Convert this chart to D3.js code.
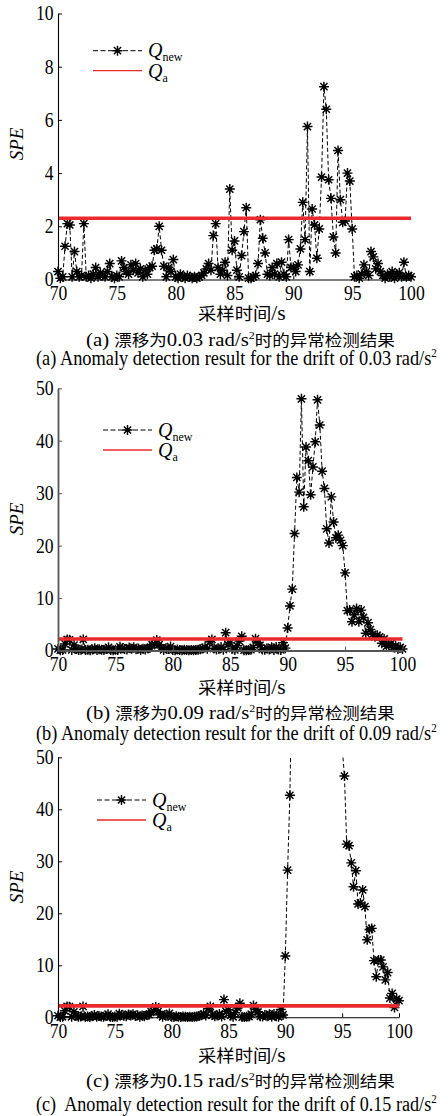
<!DOCTYPE html>
<html>
<head>
<meta charset="utf-8">
<script src="https://cdn.jsdelivr.net/npm/d3@7"></script>
<style>
  body { margin: 0; background: #fff; }
  svg { display: block; }
  text { fill: #000; }
</style>
</head>
<body>
<svg id="fig" width="448" height="1116"></svg>
<script>
// ---- sampling grid (s) ----
const sampleStart = 70;
const samplePeriod = 0.2;

// ---- axis ticks ----
const xTicks = [70, 75, 80, 85, 90, 95, 100];
const yTicksA = [0, 2, 4, 6, 8, 10];
const yTicksBC = [0, 10, 20, 30, 40, 50];

// ---- SPE before the drift sets in, 70.0 s .. 89.8 s (shared by all three cases) ----
const baseline = [
  0.30, 0.05, 0.10, 1.25, 2.10, 2.05, 0.10, 1.05, 0.30, 0.10,
  0.15, 2.10, 0.10, 0.15, 0.05, 0.20, 0.45, 0.10, 0.25, 0.15,
  0.10, 0.30, 0.60, 0.10, 0.05, 0.15, 0.10, 0.70, 0.45, 0.30,
  0.20, 0.55, 0.35, 0.60, 0.25, 0.40, 0.10, 0.35, 0.20, 0.45,
  0.50, 1.10, 1.15, 2.00, 1.10, 0.50, 0.10, 0.45, 0.30, 0.75,
  0.10, 0.05, 0.20, 0.10, 0.05, 0.15, 0.10, 0.05, 0.10, 0.05,
  0.10, 0.15, 0.25, 0.40, 0.60, 0.35, 1.65, 2.10, 0.45, 0.20,
  0.35, 0.65, 0.15, 3.40, 1.10, 1.45, 0.35, 0.10, 0.90, 1.80,
  2.70, 0.05, 0.05, 0.10, 0.15, 0.60, 2.25, 1.55, 1.00, 0.20,
  0.15, 0.45, 0.20, 0.60, 0.10, 0.65, 0.20, 0.10, 1.50, 0.45
];

// ---- SPE during the drift, 90.0 s .. 100.0 s ----
const driftA = [
  0.45, 0.30, 0.55, 1.15, 2.90, 1.50, 5.75, 0.30, 2.65, 2.05,
  0.80, 1.90, 3.85, 7.25, 6.40, 3.75, 3.05, 1.60, 1.00, 4.85,
  3.00, 2.15, 2.20, 4.00, 3.70, 1.90, 0.10, 0.15, 0.05, 0.20,
  0.55, 0.30, 0.15, 1.05, 0.85, 0.40, 0.60, 0.30, 0.15, 0.05,
  0.20, 0.10, 0.30, 0.05, 0.20, 0.25, 0.10, 0.65, 0.10, 0.15,
  0.10
];
const driftB = [
  4.3, 8.5, 11.7, 22.3, 33.0, 30.2, 48.0, 27.4, 38.8, 36.2,
  29.7, 35.0, 39.8, 47.8, 43.0, 34.2, 30.9, 23.2, 20.5, 29.3,
  24.5, 21.5, 22.0, 21.0, 20.0, 14.8, 7.6, 7.7, 5.5, 6.8,
  8.0, 5.5, 7.7, 6.3, 3.3, 5.3, 4.0, 3.1, 2.6, 2.9,
  2.6, 1.4, 2.2, 0.8, 1.1, 1.3, 0.6, 0.9, 0.3, 0.6,
  0.3
];
const driftC = [
  11.8, 28.3, 42.7, 68, 86, 97, 110, 104, 118, 125,
  121, 132, 128, 136, 130, 122, 117, 109, 101, 94,
  88, 80, 73, 66, 59, 52, 46.4, 33.3, 33.0, 29.7,
  25.1, 28.2, 21.8, 22.0, 24.5, 21.3, 14.9, 16.9, 17.1, 10.9,
  7.8, 11.0, 11.0, 9.7, 7.2, 8.6, 3.7, 4.6, 1.9, 3.5,
  3.2
];

// ---- control limits Q_a ----
const thresholdA = 2.3;
const thresholdB = 2.2;
const thresholdC = 2.2;

// ---- texts ----
const panelLetters = ["a", "b", "c"];
const driftRates = ["0.03", "0.09", "0.15"];
const xTitle = ["采样时间", "/s"];
const zhParts = ["漂移为", " rad/s", "时的异常检测结果"];
const enText = "Anomaly detection result for the drift of ";

const FONT = '"Liberation Serif", "Times New Roman", "Noto Sans CJK SC", serif';

// ---- layout of the three stacked panels ----
const layout = [
  { x: [58, 411],   y: [279.5, 13.5],   legend: [93, 50.7],  speY: 144, xTitleY: 320.5, zhY: 346.5, enY: 365,  axisColor: "#000", axisWidth: 1.1, enSep: " " },
  { x: [58, 402.5], y: [650.5, 388.3],  legend: [103, 430],  speY: 519, xTitleY: 694,   zhY: 719.5, enY: 740,  axisColor: "#555", axisWidth: 1.8, enSep: " " },
  { x: [58, 399],   y: [1017.3, 757.3], legend: [97, 800],   speY: 887, xTitleY: 1062,  zhY: 1087,  enY: 1111, axisColor: "#000", axisWidth: 1.1, enSep: "  " }
];

const series = [baseline.concat(driftA), baseline.concat(driftB), baseline.concat(driftC)];
const thresholds = [thresholdA, thresholdB, thresholdC];
const yTickSets = [yTicksA, yTicksBC, yTicksBC];

const svg = d3.select("#fig").attr("font-family", FONT);
const RED = "#ea2a2d";
const STAR_R = 5;

function starPath(r) {
  const d = r * 0.72;
  return `M${-r},0H${r}M0,${-r}V${r}M${-d},${-d}L${d},${d}M${-d},${d}L${d},${-d}`;
}

function drawStar(sel) {
  sel.append("path").attr("d", starPath(STAR_R))
    .attr("stroke", "#000").attr("stroke-width", 1.45).attr("fill", "none");
  sel.append("circle").attr("r", 1.9).attr("fill", "#000");
}

// Mixed-size text, stretched to a given width starting at x0
function fitRuns(g, x0, y, width, runs) {
  const t = g.append("text").attr("y", y)
    .style("white-space", "pre").style("font-family", FONT);
  runs.forEach(r => {
    t.append("tspan")
      .attr("font-size", r.size)
      .attr("dy", r.dy || 0)
      .style("font-style", r.italic ? "italic" : null)
      .text(r.text);
  });
  const bb = t.node().getBBox();
  const s = width / bb.width;
  t.attr("transform", `translate(${x0},0) scale(${s},1) translate(${-bb.x},0)`);
  return t;
}

layout.forEach((L, k) => {
  const g = svg.append("g");
  const values = series[k];
  const yTicks = yTickSets[k];
  const pts = values.map((v, i) => ({ t: sampleStart + i * samplePeriod, v }));

  const x = d3.scaleLinear().domain([xTicks[0], xTicks[xTicks.length - 1]]).range(L.x);
  const y = d3.scaleLinear().domain([0, yTicks[yTicks.length - 1]]).range(L.y);

  const clipId = "clip" + k;
  svg.append("clipPath").attr("id", clipId)
    .append("rect")
    .attr("x", L.x[0] - 12).attr("y", L.y[1])
    .attr("width", L.x[1] - L.x[0] + 24).attr("height", L.y[0] - L.y[1] + 15);

  const plot = g.append("g").attr("clip-path", `url(#${clipId})`);

  // Q_new: dashed line with asterisk markers
  plot.append("path")
    .datum(pts)
    .attr("fill", "none")
    .attr("stroke", "#000")
    .attr("stroke-width", 1)
    .attr("stroke-dasharray", "4,2.5")
    .attr("d", d3.line().x(d => x(d.t)).y(d => y(d.v)));

  plot.append("g").selectAll("g").data(pts).join("g")
    .attr("transform", d => `translate(${x(d.t)},${y(d.v)})`)
    .call(drawStar);

  // Q_a: control limit
  g.append("path")
    .datum(d3.extent(xTicks))
    .attr("fill", "none")
    .attr("stroke", RED)
    .attr("stroke-width", 3.6)
    .attr("d", d3.line().x(d => x(d)).y(() => y(thresholds[k])));

  // axes
  const ax = g.append("g").attr("transform", `translate(0,${L.y[0]})`)
    .call(d3.axisBottom(x).tickValues(xTicks).tickSize(-4).tickSizeOuter(0).tickPadding(6.5));
  const ay = g.append("g").attr("transform", `translate(${L.x[0]},0)`)
    .call(d3.axisLeft(y).tickValues(yTicks).tickSize(-4).tickSizeOuter(0).tickPadding(5));
  [ax, ay].forEach(a => {
    a.attr("font-family", FONT).attr("font-size", 20);
    a.select(".domain").attr("stroke", L.axisColor).attr("stroke-width", L.axisWidth);
    a.selectAll(".tick line").attr("stroke", L.axisColor).attr("stroke-width", 1);
    a.selectAll(".tick text")
      .style("font-family", FONT)
      .attr("fill", "#000")
      .attr("transform", "scale(0.88,1)");
  });

  // y title
  g.append("text")
    .attr("transform", `translate(23,${L.speY}) rotate(-90)`)
    .attr("text-anchor", "middle")
    .attr("font-size", 19)
    .style("font-family", FONT)
    .style("font-style", "italic")
    .text("SPE");

  // legend
  const [lx, ly] = L.legend;
  const lg = g.append("g");
  lg.append("line").attr("x1", lx).attr("x2", lx + 49).attr("y1", ly).attr("y2", ly)
    .attr("stroke", "#000").attr("stroke-width", 1).attr("stroke-dasharray", "5,2.5");
  lg.append("g").attr("transform", `translate(${lx + 24.5},${ly})`).call(drawStar);
  const q1 = lg.append("text").attr("x", lx + 55).attr("y", ly + 6.5).style("font-family", FONT);
  q1.append("tspan").attr("font-size", 20).style("font-style", "italic").text("Q");
  q1.append("tspan").attr("font-size", 12).attr("dy", 4).text("new");

  const ly2 = ly + 20;
  lg.append("line").attr("x1", lx).attr("x2", lx + 49).attr("y1", ly2).attr("y2", ly2)
    .attr("stroke", RED).attr("stroke-width", 1.3);
  const q2 = lg.append("text").attr("x", lx + 55).attr("y", ly2 + 7).style("font-family", FONT);
  q2.append("tspan").attr("font-size", 20).style("font-style", "italic").text("Q");
  q2.append("tspan").attr("font-size", 12).attr("dy", 4).text("a");

  // x title
  fitRuns(g, 198, L.xTitleY, 88, [
    { text: xTitle[0], size: 17 },
    { text: xTitle[1], size: 20 }
  ]);

  // captions
  const letter = `(${panelLetters[k]})`;
  fitRuns(g, 86, L.zhY, 309, [
    { text: letter + " ", size: 19 },
    { text: zhParts[0], size: 16 },
    { text: driftRates[k] + zhParts[1], size: 19 },
    { text: "2", size: 11, dy: -7 },
    { text: zhParts[2], size: 16, dy: 7 }
  ]);
  fitRuns(g, 36, L.enY, 401, [
    { text: letter + L.enSep + enText + driftRates[k] + " rad/s", size: 20 },
    { text: "2", size: 12, dy: -8 }
  ]);
});
</script>
</body>
</html>
